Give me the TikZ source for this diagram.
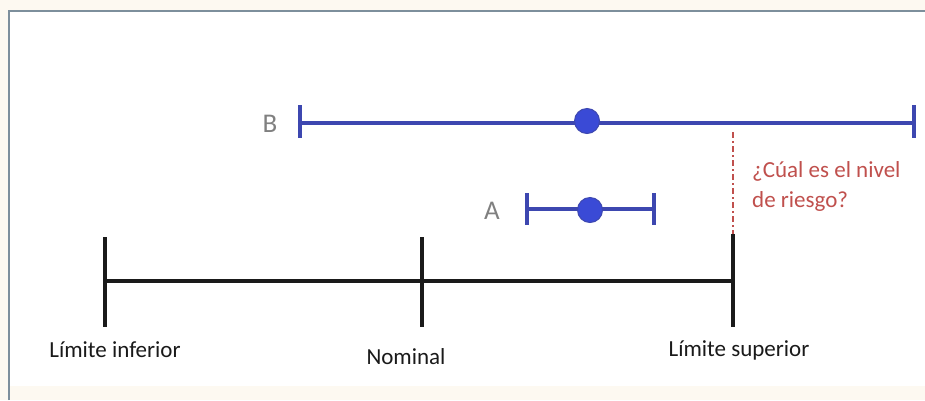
\documentclass[tikz,border=0pt]{standalone}
\usepackage{fontspec}
\setmainfont{Carlito}
\definecolor{barblue}{HTML}{3D47B0}
\definecolor{dotblue}{HTML}{3A4AD6}
\definecolor{riskred}{HTML}{C0504D}
\definecolor{labelgray}{HTML}{808080}
\definecolor{framegray}{HTML}{7D8F9C}
\definecolor{paper}{HTML}{FDF9F1}
\definecolor{ink}{HTML}{1A1A1A}
\tikzset{
  scaleline/.style={draw=ink, line width=3.5pt},
  bluebar/.style={draw=barblue, line width=3.8pt},
  meandot/.style={circle, fill=dotblue, draw=barblue, line width=1pt, minimum size=25pt, inner sep=0pt},
  limitlabel/.style={font=\fontsize{23}{26}\selectfont, text=ink, inner sep=0pt},
  serieslabel/.style={font=\fontsize{27}{30}\selectfont, text=labelgray, inner sep=0pt},
  risklabel/.style={font=\fontsize{23}{30}\selectfont, text=riskred, align=left, inner sep=0pt},
  riskline/.style={draw=riskred, line width=1.8pt, dash pattern=on 6pt off 3pt on 2pt off 3pt}
}
\begin{document}
\begin{tikzpicture}[x=1pt, y=-1pt]
\useasboundingbox (0,0) rectangle (925,400);
% page and panel
\fill[paper] (0,0) rectangle (925,400);
\fill[white] (9,11) rectangle (925,386);
\draw[framegray, line width=1.6pt] (9,400) -- (9,11) -- (925,11);

% tolerance scale (yshift is upward on the canvas)
\coordinate (lo) at (105,281);
\coordinate (nom) at (422,281);
\coordinate (hi) at (733,281);
\draw[scaleline] (lo) -- (hi);
\foreach \p in {lo,nom} \draw[scaleline] ([yshift=44pt]\p) -- ([yshift=-46pt]\p);
\coordinate (hitop) at ([yshift=47pt]hi);
\draw[scaleline] (hitop) -- ([yshift=-46pt]hi);
\node[limitlabel] (lolab) at (115,350) {Límite inferior};
\node[limitlabel] (nomlab) at (406,357) {Nominal};
\node[limitlabel] (hilab) at (739,350) {Límite superior};

% series B
\coordinate (bl) at (300,123);
\coordinate (br) at (914,123);
\draw[bluebar] (bl) -- (br);
\draw[bluebar] ([yshift=18pt]bl) -- ([yshift=-15pt]bl);
\draw[bluebar] ([yshift=18pt]br) -- ([yshift=-15pt]br);
\node[meandot] (bdot) at (587,121) {};
\node[serieslabel] (blab) at (270,124) {B};

% series A
\coordinate (al) at (527,209);
\coordinate (ar) at (654,209);
\draw[bluebar] (al) -- (ar);
\draw[bluebar] ([yshift=16pt]al) -- ([yshift=-16pt]al);
\draw[bluebar] ([yshift=16pt]ar) -- ([yshift=-16pt]ar);
\node[meandot] (adot) at (590,210) {};
\node[serieslabel] (alab) at (492,211) {A};

% upper limit projected up to series B
\coordinate (rtop) at (733,132);
\draw[riskline] (rtop) -- (hitop);
\node[risklabel, anchor=north west] (q) at (752,161) {¿Cúal es el nivel\\de riesgo?};
\end{tikzpicture}
\end{document}
